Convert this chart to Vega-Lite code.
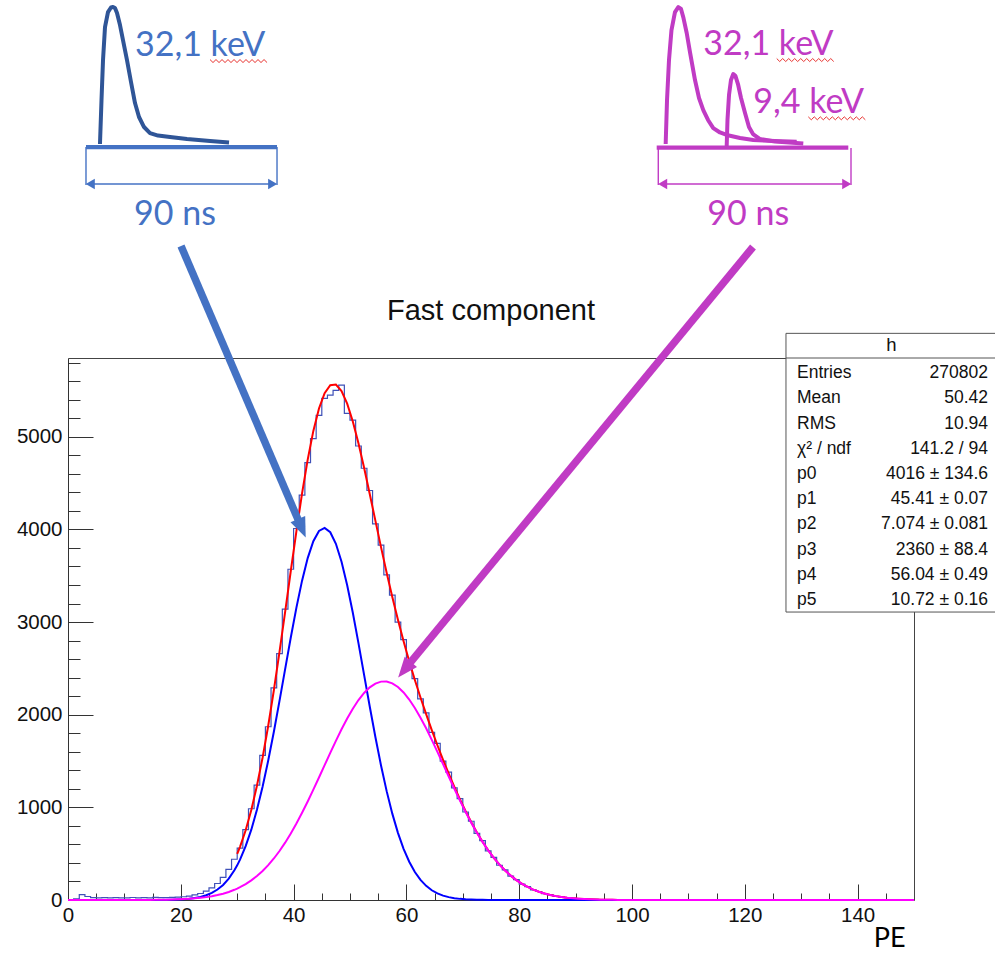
{
  "$schema": "https://vega.github.io/schema/vega-lite/v6.json",
  "width": 846,
  "height": 542,
  "autosize": {"type": "none"},
  "padding": {"left": 68, "top": 358, "right": 81, "bottom": 53},
  "background": "white",
  "config": {"view": {"stroke": null}, "axis": {"grid": false}},
  "datasets": {
    "h": [
      {"e":0,"n":5},{"e":1,"n":12},{"e":2,"n":58},{"e":3,"n":38},{"e":4,"n":26},{"e":5,"n":24},{"e":6,"n":25},{"e":7,"n":22},{"e":8,"n":26},{"e":9,"n":24},
      {"e":10,"n":23},{"e":11,"n":27},{"e":12,"n":24},{"e":13,"n":26},{"e":14,"n":23},{"e":15,"n":28},{"e":16,"n":25},{"e":17,"n":27},{"e":18,"n":29},{"e":19,"n":31},
      {"e":20,"n":35},{"e":21,"n":42},{"e":22,"n":55},{"e":23,"n":70},{"e":24,"n":96},{"e":25,"n":130},{"e":26,"n":178},{"e":27,"n":245},{"e":28,"n":330},{"e":29,"n":440},
      {"e":30,"n":560},{"e":31,"n":760},{"e":32,"n":985},{"e":33,"n":1240},{"e":34,"n":1560},{"e":35,"n":1870},{"e":36,"n":2290},{"e":37,"n":2660},{"e":38,"n":3140},{"e":39,"n":3570},
      {"e":40,"n":4010},{"e":41,"n":4370},{"e":42,"n":4720},{"e":43,"n":4980},{"e":44,"n":5230},{"e":45,"n":5415},{"e":46,"n":5450},{"e":47,"n":5500},{"e":48,"n":5558},{"e":49,"n":5253},
      {"e":50,"n":5180},{"e":51,"n":4900},{"e":52,"n":4660},{"e":53,"n":4420},{"e":54,"n":4060},{"e":55,"n":3830},{"e":56,"n":3510},{"e":57,"n":3290},{"e":58,"n":3000},{"e":59,"n":2810},
      {"e":60,"n":2560},{"e":61,"n":2390},{"e":62,"n":2170},{"e":63,"n":2020},{"e":64,"n":1810},{"e":65,"n":1690},{"e":66,"n":1500},{"e":67,"n":1380},{"e":68,"n":1210},{"e":69,"n":1095},
      {"e":70,"n":950},{"e":71,"n":850},{"e":72,"n":720},{"e":73,"n":640},{"e":74,"n":530},{"e":75,"n":460},{"e":76,"n":375},{"e":77,"n":325},{"e":78,"n":258},{"e":79,"n":220},
      {"e":80,"n":172},{"e":81,"n":145},{"e":82,"n":110},{"e":83,"n":92},{"e":84,"n":68},{"e":85,"n":58},{"e":86,"n":40},{"e":87,"n":34},{"e":88,"n":25},{"e":89,"n":20},
      {"e":90,"n":14},{"e":91,"n":12},{"e":92,"n":8},{"e":93,"n":6},{"e":94,"n":5},{"e":95,"n":3},{"e":96,"n":3},{"e":97,"n":2},{"e":98,"n":1},{"e":99,"n":2},
      {"e":100,"n":0},{"e":101,"n":0},{"e":102,"n":0},{"e":103,"n":0},{"e":104,"n":0},{"e":105,"n":1},{"e":106,"n":0},{"e":107,"n":0},{"e":108,"n":0},{"e":109,"n":0},
      {"e":110,"n":0},{"e":111,"n":0},{"e":112,"n":0},{"e":113,"n":0},{"e":114,"n":0},{"e":115,"n":0},{"e":116,"n":1},{"e":117,"n":0},{"e":118,"n":0},{"e":119,"n":0},
      {"e":120,"n":0},{"e":121,"n":0},{"e":122,"n":0},{"e":123,"n":0},{"e":124,"n":0},{"e":125,"n":0},{"e":126,"n":0},{"e":127,"n":0},{"e":128,"n":0},{"e":129,"n":0},
      {"e":130,"n":0},{"e":131,"n":0},{"e":132,"n":0},{"e":133,"n":0},{"e":134,"n":0},{"e":135,"n":0},{"e":136,"n":0},{"e":137,"n":0},{"e":138,"n":0},{"e":139,"n":0},
      {"e":140,"n":0},{"e":141,"n":0},{"e":142,"n":0},{"e":143,"n":1},{"e":144,"n":0},{"e":145,"n":0},{"e":146,"n":0},{"e":147,"n":0},{"e":148,"n":0},{"e":149,"n":0},
      {"e":150,"n":0}
    ],
    "f": [
      {"x":0,"g1":0,"g2":0},{"x":5,"g1":0,"g2":0},{"x":10,"g1":0,"g2":0.2},{"x":13.5,"g1":0.2,"g2":0.9},{"x":14.5,"g1":0.3,"g2":1.3},
      {"x":15.5,"g1":0.5,"g2":1.9},{"x":16.5,"g1":0.9,"g2":2.6},{"x":17.5,"g1":1.6,"g2":3.7},{"x":18.5,"g1":2.9,"g2":5.1},{"x":19.5,"g1":4.9,"g2":7.1},
      {"x":20.5,"g1":8.2,"g2":9.7},{"x":21.5,"g1":13.3,"g2":13.2},{"x":22.5,"g1":21.2,"g2":17.7},{"x":23.5,"g1":33.2,"g2":23.6},{"x":24.5,"g1":50.8,"g2":31.1},
      {"x":25.5,"g1":76.5,"g2":40.8},{"x":26.5,"g1":112.8,"g2":53},{"x":27.5,"g1":162.9,"g2":68.2},{"x":28.5,"g1":230.6,"g2":87},{"x":29.5,"g1":320.2,"g2":110.1},
      {"x":30,"g1":374,"g2":123,"tot":498},
      {"x":30.5,"g1":435.7,"g2":138.1,"tot":574},{"x":31.5,"g1":581,"g2":172,"tot":753},{"x":32.5,"g1":759,"g2":212,"tot":971},{"x":33.5,"g1":974,"g2":259,"tot":1233},{"x":34.5,"g1":1223,"g2":313,"tot":1536},
      {"x":35.5,"g1":1505,"g2":376,"tot":1881},{"x":36.5,"g1":1816,"g2":448,"tot":2264},{"x":37.5,"g1":2149,"g2":529,"tot":2678},{"x":38.5,"g1":2492,"g2":619,"tot":3111},{"x":39.5,"g1":2833,"g2":718,"tot":3551},
      {"x":40.5,"g1":3156,"g2":825,"tot":3981},{"x":41.5,"g1":3447,"g2":941,"tot":4388},{"x":42.5,"g1":3690,"g2":1063,"tot":4753},{"x":43.5,"g1":3872,"g2":1191,"tot":5063},{"x":44.5,"g1":3983,"g2":1322,"tot":5305},
      {"x":45.5,"g1":4016,"g2":1455,"tot":5471},{"x":46.5,"g1":3969,"g2":1588,"tot":5557},{"x":47.5,"g1":3845,"g2":1718,"tot":5563},{"x":48.5,"g1":3651,"g2":1843,"tot":5494},{"x":49.5,"g1":3398,"g2":1959,"tot":5357},
      {"x":50.5,"g1":3100,"g2":2065,"tot":5165},{"x":51.5,"g1":2772,"g2":2158,"tot":4930},{"x":52.5,"g1":2430,"g2":2235,"tot":4665},{"x":53.5,"g1":2088,"g2":2295,"tot":4383},{"x":54.5,"g1":1759,"g2":2336,"tot":4095},
      {"x":55.5,"g1":1452,"g2":2357,"tot":3809},{"x":56.5,"g1":1175,"g2":2358,"tot":3533},{"x":57.5,"g1":932,"g2":2338,"tot":3270},{"x":58.5,"g1":725,"g2":2299,"tot":3024},{"x":59.5,"g1":552,"g2":2240,"tot":2792},
      {"x":60.5,"g1":413,"g2":2164,"tot":2577},{"x":61.5,"g1":302,"g2":2073,"tot":2375},{"x":62.5,"g1":217,"g2":1968,"tot":2185},{"x":63.5,"g1":153,"g2":1853,"tot":2006},{"x":64.5,"g1":105,"g2":1728,"tot":1833},
      {"x":65.5,"g1":71,"g2":1599,"tot":1670},{"x":66.5,"g1":47,"g2":1466,"tot":1513},{"x":67.5,"g1":31,"g2":1333,"tot":1364},{"x":68.5,"g1":19.5,"g2":1201,"tot":1221},{"x":69.5,"g1":12.2,"g2":1073,"tot":1085},
      {"x":70.5,"g1":7.5,"g2":950,"tot":958},{"x":71.5,"g1":4.5,"g2":834,"tot":839},{"x":72.5,"g1":2.7,"g2":726,"tot":729},{"x":73.5,"g1":1.5,"g2":627,"tot":629},{"x":74.5,"g1":0.9,"g2":536,"tot":537},
      {"x":75.5,"g1":0.5,"g2":454,"tot":455},{"x":76.5,"g1":0.3,"g2":382,"tot":382},{"x":77.5,"g1":0.1,"g2":318,"tot":318},{"x":78.5,"g1":0,"g2":263,"tot":263},{"x":79.5,"g1":0,"g2":215,"tot":215},
      {"x":80.5,"g1":0,"g2":175,"tot":175},{"x":81.5,"g1":0,"g2":141,"tot":141},{"x":82.5,"g1":0,"g2":112,"tot":112},{"x":83.5,"g1":0,"g2":88.6,"tot":88.6},{"x":84.5,"g1":0,"g2":69.5,"tot":69.5},
      {"x":85.5,"g1":0,"g2":54.1,"tot":54.1},{"x":86.5,"g1":0,"g2":41.7,"tot":41.7},{"x":87.5,"g1":0,"g2":31.8,"tot":31.8},{"x":88.5,"g1":0,"g2":24.1,"tot":24.1},{"x":89.5,"g1":0,"g2":18.1,"tot":18.1},
      {"x":90.5,"g1":0,"g2":13.5,"tot":13.5},{"x":91.5,"g1":0,"g2":9.9,"tot":9.9},{"x":92.5,"g1":0,"g2":7.3,"tot":7.3},{"x":93.5,"g1":0,"g2":5.3,"tot":5.3},{"x":94.5,"g1":0,"g2":3.8,"tot":3.8},
      {"x":95.5,"g1":0,"g2":2.7,"tot":2.7},{"x":96.5,"g1":0,"g2":1.9,"tot":1.9},{"x":97.5,"g1":0,"g2":1.3,"tot":1.3},{"x":98.5,"g1":0,"g2":0.9,"tot":0.9},{"x":99.5,"g1":0,"g2":0.6,"tot":0.6},
      {"x":100.5,"g1":0,"g2":0.4,"tot":0.4},{"x":105,"g1":0,"g2":0,"tot":0},{"x":110,"g1":0,"g2":0,"tot":0},{"x":120,"g1":0,"g2":0,"tot":0},{"x":130,"g1":0,"g2":0,"tot":0},{"x":150,"g1":0,"g2":0}
    ],
    "deco": [
      {"g":"bp","i":0,"x":5.67,"y":8160},{"g":"bp","i":1,"x":5.94,"y":8634},{"g":"bp","i":2,"x":6.21,"y":9066},{"g":"bp","i":3,"x":6.56,"y":9422},
      {"g":"bp","i":4,"x":7.09,"y":9584},{"g":"bp","i":5,"x":7.62,"y":9633},{"g":"bp","i":6,"x":7.98,"y":9638},{"g":"bp","i":7,"x":8.33,"y":9627},
      {"g":"bp","i":8,"x":8.69,"y":9573},{"g":"bp","i":9,"x":9.22,"y":9444},{"g":"bp","i":10,"x":9.75,"y":9282},{"g":"bp","i":11,"x":10.46,"y":9066},
      {"g":"bp","i":12,"x":11.17,"y":8829},{"g":"bp","i":13,"x":11.88,"y":8602},{"g":"bp","i":14,"x":12.59,"y":8451},{"g":"bp","i":15,"x":13.48,"y":8343},
      {"g":"bp","i":16,"x":14.54,"y":8278},{"g":"bp","i":17,"x":15.96,"y":8251},{"g":"bp","i":18,"x":18.09,"y":8235},{"g":"bp","i":19,"x":21.10,"y":8213},
      {"g":"bp","i":20,"x":25.18,"y":8192},{"g":"bp","i":21,"x":28.55,"y":8176},
      {"g":"mp1","i":0,"x":105.97,"y":8160},{"g":"mp1","i":1,"x":106.21,"y":8634},{"g":"mp1","i":2,"x":106.56,"y":9066},{"g":"mp1","i":3,"x":107.00,"y":9390},
      {"g":"mp1","i":4,"x":107.62,"y":9584},{"g":"mp1","i":5,"x":108.21,"y":9638},{"g":"mp1","i":6,"x":108.69,"y":9617},{"g":"mp1","i":7,"x":109.13,"y":9519},
      {"g":"mp1","i":8,"x":109.70,"y":9358},{"g":"mp1","i":9,"x":110.28,"y":9152},{"g":"mp1","i":10,"x":111.17,"y":8850},{"g":"mp1","i":11,"x":111.88,"y":8656},
      {"g":"mp1","i":12,"x":112.64,"y":8526},{"g":"mp1","i":13,"x":113.48,"y":8419},{"g":"mp1","i":14,"x":114.41,"y":8332},{"g":"mp1","i":15,"x":115.60,"y":8284},
      {"g":"mp1","i":16,"x":116.79,"y":8257},{"g":"mp1","i":17,"x":119.15,"y":8224},{"g":"mp1","i":18,"x":121.51,"y":8203},{"g":"mp1","i":19,"x":125.35,"y":8192},
      {"g":"mp1","i":20,"x":129.20,"y":8184},
      {"g":"mp2","i":0,"x":116.79,"y":8138},{"g":"mp2","i":1,"x":116.93,"y":8419},{"g":"mp2","i":2,"x":117.20,"y":8688},{"g":"mp2","i":3,"x":117.55,"y":8850},
      {"g":"mp2","i":4,"x":117.96,"y":8915},{"g":"mp2","i":5,"x":118.35,"y":8893},{"g":"mp2","i":6,"x":118.79,"y":8807},{"g":"mp2","i":7,"x":119.33,"y":8656},
      {"g":"mp2","i":8,"x":120.04,"y":8494},{"g":"mp2","i":9,"x":120.74,"y":8343},{"g":"mp2","i":10,"x":121.45,"y":8267},{"g":"mp2","i":11,"x":122.70,"y":8213},
      {"g":"mp2","i":12,"x":125.35,"y":8187},{"g":"mp2","i":13,"x":130.37,"y":8165},
      {"g":"s1","i":0,"x":25.18,"y":9071},{"g":"s1","i":1,"x":25.71,"y":9039},{"g":"s1","i":2,"x":26.24,"y":9071},{"g":"s1","i":3,"x":26.78,"y":9039},
      {"g":"s1","i":4,"x":27.31,"y":9071},{"g":"s1","i":5,"x":27.84,"y":9039},{"g":"s1","i":6,"x":28.37,"y":9071},{"g":"s1","i":7,"x":28.90,"y":9039},
      {"g":"s1","i":8,"x":29.44,"y":9071},{"g":"s1","i":9,"x":29.97,"y":9039},{"g":"s1","i":10,"x":30.50,"y":9071},{"g":"s1","i":11,"x":31.03,"y":9039},
      {"g":"s1","i":12,"x":31.56,"y":9071},{"g":"s1","i":13,"x":32.10,"y":9039},{"g":"s1","i":14,"x":32.63,"y":9071},{"g":"s1","i":15,"x":33.16,"y":9039},
      {"g":"s1","i":16,"x":33.69,"y":9071},{"g":"s1","i":17,"x":34.22,"y":9039},{"g":"s1","i":18,"x":34.76,"y":9071},{"g":"s1","i":19,"x":35.29,"y":9039},
      {"g":"s2","i":0,"x":125.66,"y":9082},{"g":"s2","i":1,"x":126.19,"y":9050},{"g":"s2","i":2,"x":126.72,"y":9082},{"g":"s2","i":3,"x":127.26,"y":9050},
      {"g":"s2","i":4,"x":127.79,"y":9082},{"g":"s2","i":5,"x":128.32,"y":9050},{"g":"s2","i":6,"x":128.85,"y":9082},{"g":"s2","i":7,"x":129.38,"y":9050},
      {"g":"s2","i":8,"x":129.92,"y":9082},{"g":"s2","i":9,"x":130.45,"y":9050},{"g":"s2","i":10,"x":130.98,"y":9082},{"g":"s2","i":11,"x":131.51,"y":9050},
      {"g":"s2","i":12,"x":132.04,"y":9082},{"g":"s2","i":13,"x":132.58,"y":9050},{"g":"s2","i":14,"x":133.11,"y":9082},{"g":"s2","i":15,"x":133.64,"y":9050},
      {"g":"s2","i":16,"x":134.17,"y":9082},{"g":"s2","i":17,"x":134.70,"y":9050},{"g":"s2","i":18,"x":135.24,"y":9082},{"g":"s2","i":19,"x":135.77,"y":9050},
      {"g":"s3","i":0,"x":131.26,"y":8453},{"g":"s3","i":1,"x":131.79,"y":8421},{"g":"s3","i":2,"x":132.32,"y":8453},{"g":"s3","i":3,"x":132.86,"y":8421},
      {"g":"s3","i":4,"x":133.39,"y":8453},{"g":"s3","i":5,"x":133.92,"y":8421},{"g":"s3","i":6,"x":134.45,"y":8453},{"g":"s3","i":7,"x":134.98,"y":8421},
      {"g":"s3","i":8,"x":135.52,"y":8453},{"g":"s3","i":9,"x":136.05,"y":8421},{"g":"s3","i":10,"x":136.58,"y":8453},{"g":"s3","i":11,"x":137.11,"y":8421},
      {"g":"s3","i":12,"x":137.64,"y":8453},{"g":"s3","i":13,"x":138.18,"y":8421},{"g":"s3","i":14,"x":138.71,"y":8453},{"g":"s3","i":15,"x":139.24,"y":8421},
      {"g":"s3","i":16,"x":139.77,"y":8453},{"g":"s3","i":17,"x":140.30,"y":8421},{"g":"s3","i":18,"x":140.84,"y":8453},{"g":"s3","i":19,"x":141.37,"y":8421}
    ],
    "one": [{}]
  },
  "resolve": {"axis": {"x": "independent", "y": "independent"}},
  "layer": [
    {
      "data": {"name": "h"},
      "mark": {"type": "line", "interpolate": "step-after", "stroke": "#3f51b8", "strokeWidth": 1.2},
      "encoding": {
        "x": {"field": "e", "type": "quantitative", "scale": {"domain": [0, 150], "nice": false, "zero": false},
          "axis": {"orient": "bottom", "values": [0, 20, 40, 60, 80, 100, 120, 140], "format": "d", "tickSize": -16, "tickColor": "#333", "domainColor": "#333",
            "labelFont": "Liberation Sans", "labelFontSize": 20.5, "labelColor": "#111", "labelPadding": 21, "labelFlush": false, "labelOverlap": false,
            "title": "PE", "titleFont": "Lato", "titleFontSize": 27, "titleFontWeight": "normal", "titleColor": "#000", "titleAnchor": "end", "titleAlign": "right",
            "titleBaseline": "middle", "titleX": 837, "titleY": 38, "zindex": 0}},
        "y": {"field": "n", "type": "quantitative", "scale": {"domain": [0, 5850], "nice": false},
          "axis": {"orient": "left", "values": [0, 1000, 2000, 3000, 4000, 5000], "format": "d", "tickSize": -25, "tickColor": "#333", "domainColor": "#333",
            "labelFont": "Liberation Sans", "labelFontSize": 20.5, "labelColor": "#111", "labelPadding": 31, "labelFlush": false, "labelOverlap": false, "title": null, "zindex": 0}}
      }
    },
    {
      "data": {"name": "f"},
      "mark": {"type": "line", "stroke": "#ff0000", "strokeWidth": 2},
      "encoding": {
        "x": {"field": "x", "type": "quantitative", "scale": {"domain": [0, 150], "nice": false, "zero": false},
          "axis": {"orient": "bottom", "values": [5, 10, 15, 25, 30, 35, 45, 50, 55, 65, 70, 75, 85, 90, 95, 105, 110, 115, 125, 130, 135, 145], "tickSize": -7, "tickColor": "#333", "labels": false, "domain": false, "title": null, "zindex": 0}},
        "y": {"field": "tot", "type": "quantitative", "scale": {"domain": [0, 5850], "nice": false},
          "axis": {"orient": "left", "values": [200, 400, 600, 800, 1200, 1400, 1600, 1800, 2200, 2400, 2600, 2800, 3200, 3400, 3600, 3800, 4200, 4400, 4600, 4800, 5200, 5400, 5600, 5800], "tickSize": -12, "tickColor": "#333", "labels": false, "domain": false, "title": null, "zindex": 0}}
      }
    },
    {
      "data": {"name": "f"},
      "mark": {"type": "line", "stroke": "#0000ff", "strokeWidth": 2},
      "encoding": {
        "x": {"field": "x", "type": "quantitative", "axis": {"orient": "top", "ticks": false, "labels": false, "domain": true, "domainColor": "#444", "title": null, "zindex": 0}},
        "y": {"field": "g1", "type": "quantitative", "axis": {"orient": "right", "ticks": false, "labels": false, "domain": true, "domainColor": "#444", "title": null, "zindex": 0}}
      }
    },
    {
      "data": {"name": "f"},
      "mark": {"type": "line", "stroke": "#ff00ff", "strokeWidth": 2},
      "encoding": {
        "x": {"field": "x", "type": "quantitative", "axis": null},
        "y": {"field": "g2", "type": "quantitative", "axis": null}
      }
    },
    {
      "data": {"name": "one"},
      "mark": {"type": "rect", "fill": "white", "stroke": "#555", "strokeWidth": 1},
      "encoding": {
        "x": {"datum": 127.3, "type": "quantitative", "axis": null}, "x2": {"datum": 164.9},
        "y": {"datum": 3108, "type": "quantitative", "axis": null}, "y2": {"datum": 6116}
      }
    },
    {
      "data": {"name": "one"},
      "mark": {"type": "rule", "stroke": "#555", "strokeWidth": 1},
      "encoding": {
        "x": {"datum": 127.3, "type": "quantitative", "axis": null}, "x2": {"datum": 164.9},
        "y": {"datum": 5850, "type": "quantitative", "axis": null}
      }
    },
    {
      "data": {"name": "one"},
      "mark": {"type": "text", "text": "h", "font": "Liberation Sans", "fontSize": 18.5, "fill": "#111", "align": "center", "baseline": "middle"},
      "encoding": {"x": {"datum": 146.0, "type": "quantitative", "axis": null}, "y": {"datum": 5990, "type": "quantitative", "axis": null}}
    },
    {
      "data": {"name": "one"},
      "mark": {"type": "text", "text": ["Entries", "Mean", "RMS", "χ² / ndf", "p0", "p1", "p2", "p3", "p4", "p5"], "lineHeight": 25.2, "font": "Liberation Sans", "fontSize": 17.5, "fill": "#111", "align": "left", "baseline": "middle"},
      "encoding": {"x": {"datum": 129.26, "type": "quantitative", "axis": null}, "y": {"datum": 5685, "type": "quantitative", "axis": null}}
    },
    {
      "data": {"name": "one"},
      "mark": {"type": "text", "text": ["270802", "50.42", "10.94", "141.2 / 94", "4016 ± 134.6", "45.41 ± 0.07", "7.074 ± 0.081", "2360 ± 88.4", "56.04 ± 0.49", "10.72 ± 0.16"], "lineHeight": 25.2, "font": "Liberation Sans", "fontSize": 17.5, "fill": "#111", "align": "right", "baseline": "middle"},
      "encoding": {"x": {"datum": 163.12, "type": "quantitative", "axis": null}, "y": {"datum": 5685, "type": "quantitative", "axis": null}}
    },
    {
      "data": {"name": "one"},
      "mark": {"type": "text", "text": "Fast component", "font": "Liberation Sans", "fontSize": 29, "fill": "#111", "align": "center", "baseline": "middle"},
      "encoding": {"x": {"datum": 75.0, "type": "quantitative", "axis": null}, "y": {"datum": 6357, "type": "quantitative", "axis": null}}
    },
    {
      "data": {"name": "deco"},
      "transform": [{"filter": "datum.g == 'bp'"}],
      "mark": {"type": "line", "stroke": "#2f5597", "strokeWidth": 4, "strokeJoin": "round"},
      "encoding": {"x": {"field": "x", "type": "quantitative", "axis": null}, "y": {"field": "y", "type": "quantitative", "axis": null}, "order": {"field": "i"}}
    },
    {
      "data": {"name": "deco"},
      "transform": [{"filter": "datum.g == 'mp1' || datum.g == 'mp2'"}],
      "mark": {"type": "line", "stroke": "#c03bc4", "strokeWidth": 4, "strokeJoin": "round"},
      "encoding": {"x": {"field": "x", "type": "quantitative", "axis": null}, "y": {"field": "y", "type": "quantitative", "axis": null}, "detail": {"field": "g"}, "order": {"field": "i"}}
    },
    {
      "data": {"name": "deco"},
      "transform": [{"filter": "datum.g == 's1' || datum.g == 's2' || datum.g == 's3'"}],
      "mark": {"type": "line", "stroke": "#e8322f", "strokeWidth": 1},
      "encoding": {"x": {"field": "x", "type": "quantitative", "axis": null}, "y": {"field": "y", "type": "quantitative", "axis": null}, "detail": {"field": "g"}, "order": {"field": "i"}}
    },
    {
      "data": {"name": "one"},
      "mark": {"type": "rule", "stroke": "#4472c4", "strokeWidth": 4.3},
      "encoding": {"x": {"datum": 3.19, "type": "quantitative", "axis": null}, "x2": {"datum": 37.06}, "y": {"datum": 8127, "type": "quantitative", "axis": null}}
    },
    {
      "data": {"name": "one"},
      "mark": {"type": "rule", "stroke": "#4472c4", "strokeWidth": 1.4},
      "encoding": {"x": {"datum": 3.19, "type": "quantitative", "axis": null}, "y": {"datum": 8127, "type": "quantitative", "axis": null}, "y2": {"datum": 7717}}
    },
    {
      "data": {"name": "one"},
      "mark": {"type": "rule", "stroke": "#4472c4", "strokeWidth": 1.4},
      "encoding": {"x": {"datum": 37.06, "type": "quantitative", "axis": null}, "y": {"datum": 8127, "type": "quantitative", "axis": null}, "y2": {"datum": 7717}}
    },
    {
      "data": {"name": "one"},
      "mark": {"type": "rule", "stroke": "#4472c4", "strokeWidth": 1.5},
      "encoding": {"x": {"datum": 3.5, "type": "quantitative", "axis": null}, "x2": {"datum": 36.7}, "y": {"datum": 7728, "type": "quantitative", "axis": null}}
    },
    {
      "data": {"name": "one"},
      "mark": {"type": "point", "shape": "triangle-left", "size": 110, "filled": true, "fill": "#4472c4", "opacity": 1},
      "encoding": {"x": {"datum": 3.95, "type": "quantitative", "axis": null}, "y": {"datum": 7728, "type": "quantitative", "axis": null}}
    },
    {
      "data": {"name": "one"},
      "mark": {"type": "point", "shape": "triangle-right", "size": 110, "filled": true, "fill": "#4472c4", "opacity": 1},
      "encoding": {"x": {"datum": 36.29, "type": "quantitative", "axis": null}, "y": {"datum": 7728, "type": "quantitative", "axis": null}}
    },
    {
      "data": {"name": "one"},
      "mark": {"type": "rule", "stroke": "#c03bc4", "strokeWidth": 4.3},
      "encoding": {"x": {"datum": 104.38, "type": "quantitative", "axis": null}, "x2": {"datum": 138.35}, "y": {"datum": 8120, "type": "quantitative", "axis": null}}
    },
    {
      "data": {"name": "one"},
      "mark": {"type": "rule", "stroke": "#c03bc4", "strokeWidth": 1.4},
      "encoding": {"x": {"datum": 104.66, "type": "quantitative", "axis": null}, "y": {"datum": 8117, "type": "quantitative", "axis": null}, "y2": {"datum": 7717}}
    },
    {
      "data": {"name": "one"},
      "mark": {"type": "rule", "stroke": "#c03bc4", "strokeWidth": 1.4},
      "encoding": {"x": {"datum": 138.83, "type": "quantitative", "axis": null}, "y": {"datum": 8117, "type": "quantitative", "axis": null}, "y2": {"datum": 7717}}
    },
    {
      "data": {"name": "one"},
      "mark": {"type": "rule", "stroke": "#c03bc4", "strokeWidth": 1.5},
      "encoding": {"x": {"datum": 105.0, "type": "quantitative", "axis": null}, "x2": {"datum": 138.5}, "y": {"datum": 7728, "type": "quantitative", "axis": null}}
    },
    {
      "data": {"name": "one"},
      "mark": {"type": "point", "shape": "triangle-left", "size": 110, "filled": true, "fill": "#c03bc4", "opacity": 1},
      "encoding": {"x": {"datum": 105.43, "type": "quantitative", "axis": null}, "y": {"datum": 7728, "type": "quantitative", "axis": null}}
    },
    {
      "data": {"name": "one"},
      "mark": {"type": "point", "shape": "triangle-right", "size": 110, "filled": true, "fill": "#c03bc4", "opacity": 1},
      "encoding": {"x": {"datum": 138.07, "type": "quantitative", "axis": null}, "y": {"datum": 7728, "type": "quantitative", "axis": null}}
    },
    {
      "data": {"name": "one"},
      "mark": {"type": "text", "text": "32,1 keV", "font": "Lato", "fontSize": 34, "fill": "#4472c4", "align": "left", "baseline": "middle"},
      "encoding": {"x": {"datum": 11.88, "type": "quantitative", "axis": null}, "y": {"datum": 9217, "type": "quantitative", "axis": null}}
    },
    {
      "data": {"name": "one"},
      "mark": {"type": "text", "text": "90 ns", "font": "Lato", "fontSize": 34, "fill": "#4472c4", "align": "center", "baseline": "middle"},
      "encoding": {"x": {"datum": 18.97, "type": "quantitative", "axis": null}, "y": {"datum": 7393, "type": "quantitative", "axis": null}}
    },
    {
      "data": {"name": "one"},
      "mark": {"type": "text", "text": "32,1 keV", "font": "Lato", "fontSize": 34, "fill": "#c03bc4", "align": "left", "baseline": "middle"},
      "encoding": {"x": {"datum": 112.64, "type": "quantitative", "axis": null}, "y": {"datum": 9228, "type": "quantitative", "axis": null}}
    },
    {
      "data": {"name": "one"},
      "mark": {"type": "text", "text": "9,4 keV", "font": "Lato", "fontSize": 34, "fill": "#c03bc4", "align": "left", "baseline": "middle"},
      "encoding": {"x": {"datum": 121.51, "type": "quantitative", "axis": null}, "y": {"datum": 8599, "type": "quantitative", "axis": null}}
    },
    {
      "data": {"name": "one"},
      "mark": {"type": "text", "text": "90 ns", "font": "Lato", "fontSize": 34, "fill": "#c03bc4", "align": "center", "baseline": "middle"},
      "encoding": {"x": {"datum": 120.62, "type": "quantitative", "axis": null}, "y": {"datum": 7393, "type": "quantitative", "axis": null}}
    },
    {
      "data": {"name": "one"},
      "mark": {"type": "rule", "stroke": "#4472c4", "strokeWidth": 7.5},
      "encoding": {"x": {"datum": 20.04, "type": "quantitative", "axis": null}, "x2": {"datum": 41.45}, "y": {"datum": 7059, "type": "quantitative", "axis": null}, "y2": {"datum": 4012}}
    },
    {
      "data": {"name": "one"},
      "mark": {"type": "point", "shape": "M0,-1L0.8,1L-0.8,1Z", "size": 400, "angle": 156.8, "filled": true, "fill": "#4472c4", "opacity": 1},
      "encoding": {"x": {"datum": 41.45, "type": "quantitative", "axis": null}, "y": {"datum": 4012, "type": "quantitative", "axis": null}}
    },
    {
      "data": {"name": "one"},
      "mark": {"type": "rule", "stroke": "#c03bc4", "strokeWidth": 7.5},
      "encoding": {"x": {"datum": 121.45, "type": "quantitative", "axis": null}, "x2": {"datum": 59.66}, "y": {"datum": 7048, "type": "quantitative", "axis": null}, "y2": {"datum": 2486}}
    },
    {
      "data": {"name": "one"},
      "mark": {"type": "point", "shape": "M0,-1L0.8,1L-0.8,1Z", "size": 400, "angle": 219.5, "filled": true, "fill": "#c03bc4", "opacity": 1},
      "encoding": {"x": {"datum": 59.66, "type": "quantitative", "axis": null}, "y": {"datum": 2486, "type": "quantitative", "axis": null}}
    }
  ]
}
